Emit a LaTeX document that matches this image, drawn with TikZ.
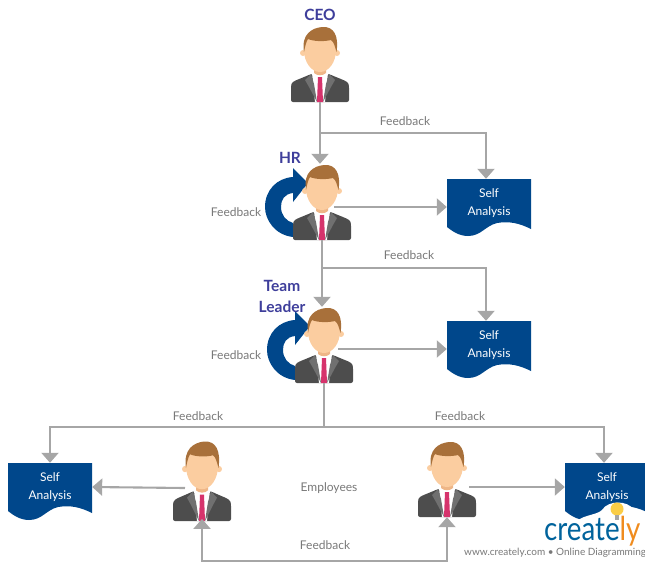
\documentclass[tikz,border=0pt]{standalone}
\usepackage{fontspec}
\setmainfont{Lato}
\usepackage{tikz}
\usetikzlibrary{arrows.meta, calc}
\definecolor{docblue}{RGB}{0, 71, 139}
\definecolor{titleblue}{RGB}{62, 62, 155}
\definecolor{flowgray}{RGB}{166, 166, 166}
\definecolor{textgray}{RGB}{120, 120, 120}
\definecolor{suitgray}{RGB}{77, 77, 77}
\definecolor{lapelgray}{RGB}{112, 112, 112}
\definecolor{skin}{RGB}{251, 205, 160}
\definecolor{neckskin}{RGB}{238, 182, 135}
\definecolor{hair}{RGB}{168, 112, 58}
\definecolor{tiepink}{RGB}{214, 51, 108}
\definecolor{logoorange}{RGB}{240, 140, 30}
\definecolor{bulbyellow}{RGB}{250, 205, 70}
\tikzset{
  flow/.style={draw=flowgray, line width=2.1pt, -{Triangle[width=17pt,length=10pt]}},
  flowline/.style={draw=flowgray, line width=2.1pt},
  fbtext/.style={text=textgray, font=\fontsize{12}{14}\selectfont, inner sep=1pt},
  roletext/.style={text=titleblue, font=\fontsize{15.5}{21}\selectfont\bfseries, align=center, inner sep=0pt},
  holder/.style={inner sep=0pt, minimum width=58pt, minimum height=76pt},
  doctext/.style={text=white, font=\fontsize{12}{18}\selectfont, align=center, inner sep=0pt, minimum width=84pt, minimum height=48pt},
  person/.pic={
    \fill[suitgray, rounded corners=2pt] (-29,0) -- (-29,-16) .. controls (-28,-21) and (-20,-23) .. (-9,-28) -- (9,-28) .. controls (20,-23) and (28,-21) .. (29,-16) -- (29,0) -- cycle;
    \fill[white] (-8,-29) -- (8,-29) -- (5,0) -- (-5,0) -- cycle;
    \fill[lapelgray] (-9,-28) -- (-15,-22) -- (-11,-15) -- (-3,0) -- (-6,-18) -- cycle;
    \fill[lapelgray] (9,-28) -- (15,-22) -- (11,-15) -- (3,0) -- (6,-18) -- cycle;
    \fill[neckskin] (-6,-36) -- (6,-36) -- (6,-29) .. controls (3,-26) and (-3,-26) .. (-6,-29) -- cycle;
    \fill[tiepink] (-2,-25) -- (2,-25) -- (3,0) -- (-3,0) -- cycle;
    \fill[skin] (-17,-49) circle (3);
    \fill[skin] (17,-49) circle (3);
    \fill[skin] (0,-52) ellipse (16 and 22);
    \fill[hair] (-16,-50) .. controls (-19,-68) and (-8,-74) .. (2,-75) .. controls (14,-76) and (19,-66) .. (16.5,-50)
      .. controls (15,-55) and (14,-60) .. (11,-62) .. controls (3,-60) and (-8,-61) .. (-12,-63) .. controls (-14,-60) and (-15,-55) .. (-16,-50) -- cycle;
    \node[holder] (box) at (0,-38) {};
  },
  selfdoc/.pic={
    \fill[docblue] (0,0) -- (84,0) -- (84,50) .. controls (72,44) and (62,42) .. (50,44) .. controls (38,47) and (34,57) .. (21,57) .. controls (12,57) and (5,52) .. (0,48) -- cycle;
    \node[doctext] (box) at (42,24) {Self\\Analysis};
  },
  loopback/.pic={
    \fill[docblue] (-29,-3) .. controls (-47,-5) and (-57,-20) .. (-57,-33) .. controls (-57,-50) and (-45,-62) .. (-29,-63)
      -- (-29,-72) -- (-14,-57) -- (-29,-38) -- (-29,-47) .. controls (-38,-46) and (-41,-40) .. (-41,-33) .. controls (-41,-25) and (-36,-19) .. (-29,-17) -- cycle;
  }
}
\begin{document}
\begin{tikzpicture}[x=1pt, y=-1pt]
  \useasboundingbox (0,0) rectangle (645,563);
  \clip (0,0) rectangle (645,563);

  % People
  \pic at (322,240) {loopback};
  \pic at (324,383) {loopback};
  \pic (ceo) at (320,102) {person};
  \pic (hr) at (322,240) {person};
  \pic (lead) at (324,383) {person};
  \pic[yscale=1.06] (empa) at (202,521) {person};
  \pic (empb) at (447,517) {person};

  % Self analysis sheets
  \pic (doca) at (447,179) {selfdoc};
  \pic (docb) at (447,321) {selfdoc};
  \pic (docc) at (8,463) {selfdoc};
  \pic (docd) at (565,463) {selfdoc};

  % Free ends
  \coordinate (ceofork) at (320,133);
  \coordinate (hrfork) at (323,268);
  \coordinate (leadfork) at (324,427);
  \coordinate (hrout) at (334,207);
  \coordinate (leadout) at (338,349);
  \coordinate (empaout) at (185,488);
  \coordinate (empbout) at (469,487);
  \coordinate (peerlow) at (202,561);

  % Connectors
  \draw[flow] (ceobox.south) -- (ceobox.south |- hrbox.north);
  \draw[flow] (ceofork) -| ([xshift=-3pt]docabox.north);
  \draw[flow] (hrbox.south) -- (hrbox.south |- leadbox.north);
  \draw[flow] (hrfork) -| ([xshift=-3pt]docbbox.north);
  \draw[flow] (hrout) -- ([yshift=-4pt]docabox.west);
  \draw[flow] (leadout) -- ([yshift=-4pt]docbbox.west);
  \draw[flowline] (leadbox.south) -- (leadfork);
  \draw[flow] (leadfork) -| (doccbox.north);
  \draw[flow] (leadfork) -| ([xshift=-3pt]docdbox.north);
  \draw[flow] (empaout) -- (doccbox.east);
  \draw[flow] (empbout) -- (docdbox.west);
  \draw[flow, {Triangle[width=17pt,length=10pt]}-{Triangle[width=17pt,length=10pt]}] (empabox.south) -- (peerlow) -| (empbbox.south);

  % Labels
  \node[roletext] (ceotext) at (320,15) {CEO};
  \node[roletext] (hrtext) at (290,158) {HR};
  \node[roletext] (leadtext) at (282,296) {Team\\Leader};
  \node[fbtext] (fba) at (405,121) {Feedback};
  \node[fbtext] (fbb) at (236,212) {Feedback};
  \node[fbtext] (fbc) at (409,255) {Feedback};
  \node[fbtext] (fbd) at (236,355) {Feedback};
  \node[fbtext] (fbe) at (198,416) {Feedback};
  \node[fbtext] (fbf) at (460,416) {Feedback};
  \node[fbtext] (fbg) at (325,545) {Feedback};
  \node[fbtext] (emptext) at (329,488) {Employees};

  % Logo
  \fill[white] (572,526) .. controls (580,514) and (596,516) .. (602,510) .. controls (608,500) and (628,500) .. (634,510) .. controls (640,510) and (645,512) .. (645,514) -- (645,563) -- (462,563) -- (462,545) -- (540,545) -- (545,530) -- cycle;
  \fill[bulbyellow] (617,509) circle (6.5);
  \fill[flowgray] (615,515) rectangle (619,520);
  \node[anchor=base west, inner sep=0pt, transform shape, xscale=.84, font=\fontsize{33}{33}\selectfont] (logotext) at (544,540) {\textcolor{docblue!85!cyan}{create}\textcolor{logoorange}{ly}};
  \node[anchor=west, inner sep=0pt, text=textgray, font=\fontsize{10}{11}\selectfont] (logourl) at (464,553) {www.creately.com • Online Diagramming};
\end{tikzpicture}
\end{document}
